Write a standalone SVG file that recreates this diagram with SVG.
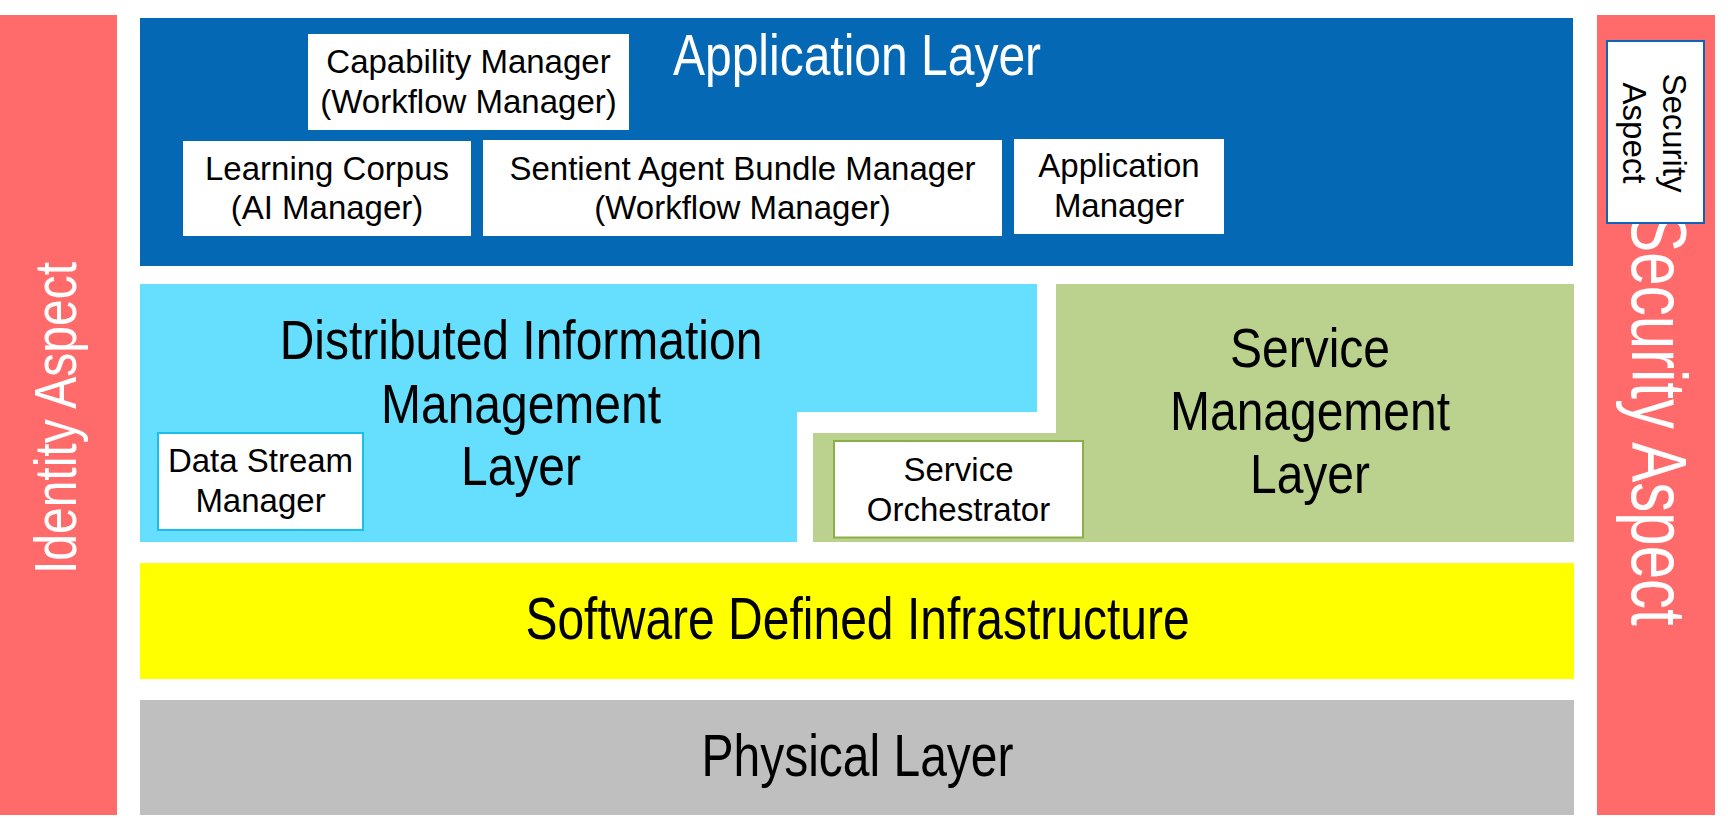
<svg xmlns="http://www.w3.org/2000/svg" width="1728" height="824" viewBox="0 0 1728 824">
<style>
text{font-family:"Liberation Sans",Arial,sans-serif;}
.big{font-size:48px;text-anchor:middle;fill:#000;}
.sm{font-size:33px;text-anchor:middle;fill:#000;}
.wh{fill:#fff;}
.box{fill:#fff;}
.aspect{fill:#FF6B6B;}
</style>
<rect width="1728" height="824" fill="#fff"/>
<g id="identity-aspect">
<rect class="aspect" x="0" y="15" width="117" height="800"/>
<text class="big wh" transform="translate(76,418) rotate(-90) scale(1,1.22)">Identity Aspect</text>
</g>
<g id="security-aspect">
<rect class="aspect" x="1597" y="15" width="118" height="800"/>
<text class="big wh" style="font-size:60px" transform="translate(1632,419) rotate(90) scale(1,1.29)">Security Aspect</text>
</g>
<g id="application-layer">
<rect x="140" y="18" width="1433" height="248" fill="#0468B5"/>
<text class="big wh" transform="translate(857,75) scale(1,1.21)">Application Layer</text>
</g>
<g id="capability-manager">
<rect class="box" x="308" y="34" width="321" height="96"/>
<text class="sm" x="468.5" y="73">Capability Manager</text>
<text class="sm" x="468.5" y="112.5">(Workflow Manager)</text>
</g>
<g id="learning-corpus">
<rect class="box" x="183" y="141" width="288" height="95"/>
<text class="sm" x="327" y="180">Learning Corpus</text>
<text class="sm" x="327" y="218.5">(AI Manager)</text>
</g>
<g id="sentient-agent-bundle-manager">
<rect class="box" x="483" y="140" width="519" height="96"/>
<text class="sm" x="742.5" y="180">Sentient Agent Bundle Manager</text>
<text class="sm" x="742.5" y="218.5">(Workflow Manager)</text>
</g>
<g id="application-manager">
<rect class="box" x="1014" y="139" width="210" height="95"/>
<text class="sm" x="1119" y="177">Application</text>
<text class="sm" x="1119" y="216.5">Manager</text>
</g>
<g id="security-aspect-box">
<rect x="1607" y="41" width="97" height="182" fill="#fff" stroke="#0A64B8" stroke-width="2"/>
<text class="sm" transform="translate(1663,133) rotate(90)">Security</text>
<text class="sm" transform="translate(1623,133) rotate(90)">Aspect</text>
</g>
<g id="distributed-information-management-layer">
<path d="M140,284 H1037 V412 H797 V542 H140 Z" fill="#66DEFE"/>
<text class="big" transform="translate(521,359) scale(1,1.17)">Distributed Information</text>
<text class="big" transform="translate(521,422.5) scale(1,1.17)">Management</text>
<text class="big" transform="translate(521,485) scale(1,1.17)">Layer</text>
</g>
<g id="data-stream-manager">
<rect x="158" y="433" width="205" height="97" fill="#fff" stroke="#1BBDEB" stroke-width="2"/>
<text class="sm" x="260.5" y="471.5">Data Stream</text>
<text class="sm" x="260.5" y="511.5">Manager</text>
</g>
<g id="service-management-layer">
<path d="M1056,284 H1574 V542 H813 V433 H1056 Z" fill="#BBD28F"/>
<text class="big" transform="translate(1310,366.7) scale(1,1.17)">Service</text>
<text class="big" transform="translate(1310,430) scale(1,1.17)">Management</text>
<text class="big" transform="translate(1310,493) scale(1,1.17)">Layer</text>
</g>
<g id="service-orchestrator">
<rect x="834" y="441" width="249" height="96.5" fill="#fff" stroke="#8CAD48" stroke-width="2"/>
<text class="sm" x="958.5" y="480.5">Service</text>
<text class="sm" x="958.5" y="520.5">Orchestrator</text>
</g>
<g id="software-defined-infrastructure">
<rect x="140" y="563" width="1434" height="116" fill="#FFFF00"/>
<text class="big" transform="translate(857.5,639) scale(1,1.23)">Software Defined Infrastructure</text>
</g>
<g id="physical-layer">
<rect x="140" y="700" width="1434" height="115" fill="#BFBFBF"/>
<text class="big" transform="translate(857.5,776) scale(1,1.22)">Physical Layer</text>
</g>
<g id="connectors"></g>
</svg>
